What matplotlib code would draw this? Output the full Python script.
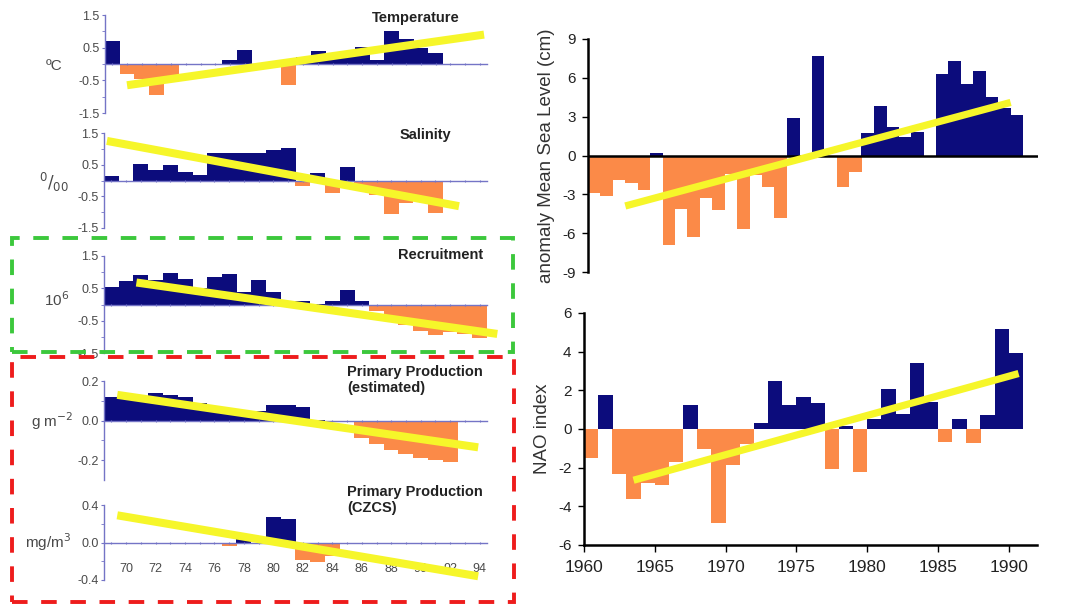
import matplotlib

matplotlib.use("Agg")
import matplotlib.pyplot as plt
from matplotlib.patches import Rectangle

plt.rcParams["font.family"] = ["Liberation Sans", "DejaVu Sans"]
plt.rcParams["axes.unicode_minus"] = False

W, H = 1071, 606
NAVY = "#0c0c7c"
ORANGE = "#fb8a48"
YELLOW = "#f6f62a"
AXBLUE = "#7474c6"
GREY = "#4a4a4a"

# ---- left column: yearly anomalies (years as 19xx -> xx) ----
temp_years = list(range(69, 94))
temp_vals = [0.7, -0.3, -0.45, -0.95, -0.4, 0.0, 0.0, 0.0, 0.13, 0.42, -0.1, 0.0,
             -0.65, 0.2, 0.4, 0.25, 0.3, 0.52, 0.12, 1.0, 0.78, 0.5, 0.33, 0.0, 0.0]
temp_trend_x = [70.0, 94.3]
temp_trend_y = [-0.65, 0.9]

sal_years = list(range(69, 92))
sal_vals = [0.13, 0.0, 0.52, 0.34, 0.5, 0.27, 0.17, 0.88, 0.88, 0.88, 0.88, 0.97,
            1.04, -0.16, 0.24, -0.38, 0.42, -0.2, -0.45, -1.05, -0.72, -0.55, -1.02]
sal_trend_x = [68.7, 92.6]
sal_trend_y = [1.25, -0.81]

rec_years = list(range(69, 95))
rec_vals = [0.54, 0.74, 0.91, 0.75, 0.96, 0.8, 0.5, 0.85, 0.93, 0.4, 0.76, 0.39,
            0.1, 0.1, 0.02, 0.1, 0.44, 0.1, -0.2, -0.4, -0.64, -0.81, -0.93, -0.85,
            -0.9, -1.03]
rec_trend_x = [70.7, 95.2]
rec_trend_y = [0.68, -0.91]

ppe_years = list(range(69, 93))
ppe_vals = [0.12, 0.11, 0.12, 0.14, 0.13, 0.12, 0.09, 0.07, 0.05, 0.04, 0.05, 0.08,
            0.08, 0.07, 0.005, 0.0, -0.005, -0.09, -0.12, -0.15, -0.17, -0.19, -0.2,
            -0.21]
ppe_trend_x = [69.4, 93.9]
ppe_trend_y = [0.13, -0.135]

czcs_years = list(range(77, 85))
czcs_vals = [-0.04, 0.08, 0.0, 0.27, 0.25, -0.19, -0.21, -0.14]
czcs_trend_x = [69.4, 93.9]
czcs_trend_y = [0.29, -0.36]

# ---- right column ----
sea_years = list(range(1956, 1991))
sea_vals = [-2.9, -3.1, -1.9, -2.1, -2.7, 0.2, -6.9, -4.1, -6.3, -3.3, -4.2, -1.4,
            -5.7, -1.5, -2.4, -4.8, 2.9, 0.0, 7.7, 0.0, -2.4, -1.3, 1.7, 3.8, 2.2,
            1.4, 1.8, 0.0, 6.3, 7.3, 5.5, 6.5, 4.5, 3.7, 3.1]
sea_trend_x = [1959.0, 1990.0]
sea_trend_y = [-3.9, 4.1]

nao_years = list(range(1960, 1991))
nao_vals = [-1.5, 1.75, -2.35, -3.6, -2.8, -2.9, -1.7, 1.25, -1.05, -4.85, -1.85,
            -0.8, 0.3, 2.5, 1.25, 1.65, 1.35, -2.05, 0.15, -2.2, 0.5, 2.05, 0.8,
            3.4, 1.4, -0.65, 0.5, -0.7, 0.7, 5.15, 3.95]
nao_trend_x = [1963.5, 1990.7]
nao_trend_y = [-2.65, 2.87]

fig = plt.figure(figsize=(W / 100, H / 100), dpi=100)


def rect(x0, y0, x1, y1):
    return [x0 / W, 1 - y1 / H, (x1 - x0) / W, (y1 - y0) / H]


def ftext(x, y, s, **kw):
    fig.text(x / W, 1 - y / H, s, **kw)


def sign_colors(vals):
    return [NAVY if v >= 0 else ORANGE for v in vals]


def left_panel(box, years, vals, tx, ty, ylim, major, labels, minor, xlabels=False):
    ax = fig.add_axes(rect(*box))
    ax.bar(years, vals, width=1.02, color=sign_colors(vals), linewidth=0, zorder=1)
    ax.plot(tx, ty, color=YELLOW, lw=5.8, solid_capstyle="butt", clip_on=False, zorder=4)
    ax.set_xlim(68.5, 94.5)
    ax.set_ylim(*ylim)
    for s in ("top", "right"):
        ax.spines[s].set_visible(False)
    ax.spines["bottom"].set_position(("data", 0))
    for s in ("left", "bottom"):
        ax.spines[s].set_color(AXBLUE)
        ax.spines[s].set_linewidth(1.0)
    ax.set_yticks(major, labels)
    ax.set_yticks(minor, minor=True)
    ax.tick_params(axis="y", which="both", color=AXBLUE, length=2.5, labelsize=9,
                   labelcolor=GREY, pad=1.5)
    yrs = list(range(69, 95))
    if xlabels:
        ax.set_xticks(yrs, [str(y) if y % 2 == 0 else "" for y in yrs])
        ax.tick_params(axis="x", labelsize=9, labelcolor=GREY, pad=14)
    else:
        ax.set_xticks(yrs)
        ax.tick_params(axis="x", labelbottom=False)
    ax.tick_params(axis="x", color=AXBLUE, length=2, direction="inout")
    ax.patch.set_alpha(0)
    return ax


left_panel((105, 15, 487, 113), temp_years, temp_vals, temp_trend_x, temp_trend_y,
           (-1.5, 1.5), [1.5, 0.5, -0.5, -1.5], ["1.5", "0.5", "-0.5", "-1.5"], [1.0, 0, -1.0])
left_panel((104, 133, 487, 228), sal_years, sal_vals, sal_trend_x, sal_trend_y,
           (-1.5, 1.5), [1.5, 0.5, -0.5, -1.5], ["1.5", "0.5", "-0.5", "-1.5"], [1.0, 0, -1.0])
left_panel((104, 256, 487, 353), rec_years, rec_vals, rec_trend_x, rec_trend_y,
           (-1.5, 1.5), [1.5, 0.5, -0.5, -1.5], ["1.5", "0.5", "-0.5", "-1.5"], [1.0, 0, -1.0])
left_panel((104, 381, 487, 480), ppe_years, ppe_vals, ppe_trend_x, ppe_trend_y,
           (-0.3, 0.2), [0.2, 0.0, -0.2], ["0.2", "0.0", "-0.2"], [0.1, -0.1])
left_panel((104, 505, 487, 580), czcs_years, czcs_vals, czcs_trend_x, czcs_trend_y,
           (-0.4, 0.4), [0.4, 0.0, -0.4], ["0.4", "0.0", "-0.4"], [0.2, -0.2], xlabels=True)

# units and panel titles
ftext(54, 66, "ºC", fontsize=11, color=GREY, ha="center", va="center")
ftext(54, 182, r"$^{0}/_{00}$", fontsize=12, color=GREY, ha="center", va="center")
ftext(57, 300, r"10$^{6}$", fontsize=11, color=GREY, ha="center", va="center")
ftext(52, 421, r"g m$^{-2}$", fontsize=11, color=GREY, ha="center", va="center")
ftext(48, 542, r"mg/m$^{3}$", fontsize=11, color=GREY, ha="center", va="center")

ftext(416, 18, "Temperature", fontsize=10.5, fontweight="bold", color="#222222",
      ha="center", va="center")
ftext(425, 135, "Salinity", fontsize=10.5, fontweight="bold", color="#222222",
      ha="center", va="center")
ftext(441, 255, "Recruitment", fontsize=10.5, fontweight="bold", color="#222222",
      ha="center", va="center")
ftext(347, 380, "Primary Production\n(estimated)", fontsize=10.5, fontweight="bold",
      color="#222222", ha="left", va="center", linespacing=1.1)
ftext(347, 500, "Primary Production\n(CZCS)", fontsize=10.5, fontweight="bold",
      color="#222222", ha="left", va="center", linespacing=1.1)

# ---- sea level ----
ax1 = fig.add_axes(rect(588, 39, 1038, 272))
ax1.bar(sea_years, sea_vals, width=1.02, align="edge", color=sign_colors(sea_vals),
        linewidth=0, zorder=1)
ax1.axhline(0, color="black", lw=1.8, zorder=2)
ax1.plot(sea_trend_x, sea_trend_y, color=YELLOW, lw=5.2, solid_capstyle="butt", zorder=4)
ax1.set_xlim(1956, 1992.2)
ax1.set_ylim(-9, 9)
ax1.set_yticks([9, 6, 3, 0, -3, -6, -9])
for s in ("top", "right", "bottom"):
    ax1.spines[s].set_visible(False)
ax1.spines["left"].set_linewidth(1.8)
ax1.tick_params(axis="y", length=4, width=1, labelsize=11, labelcolor="#222222", pad=5)
ax1.set_xticks([])
ax1.set_ylabel("anomaly Mean Sea Level (cm)", fontsize=13.5, color="#333333", labelpad=5)

# ---- NAO ----
ax2 = fig.add_axes(rect(584, 313, 1037, 545))
ax2.bar(nao_years, nao_vals, width=1.02, align="edge", color=sign_colors(nao_vals),
        linewidth=0, zorder=1)
ax2.plot(nao_trend_x, nao_trend_y, color=YELLOW, lw=5.2, solid_capstyle="butt", zorder=4)
ax2.set_xlim(1960, 1992)
ax2.set_ylim(-6, 6)
ax2.set_yticks([6, 4, 2, 0, -2, -4, -6])
ax2.set_xticks([1960, 1965, 1970, 1975, 1980, 1985, 1990])
for s in ("top", "right"):
    ax2.spines[s].set_visible(False)
ax2.spines["left"].set_linewidth(1.8)
ax2.spines["bottom"].set_linewidth(1.8)
ax2.tick_params(axis="y", length=4, width=1, labelsize=11, labelcolor="#222222", pad=5)
ax2.tick_params(axis="x", length=5, width=1, labelsize=12.5, labelcolor="#222222", pad=6)
ax2.set_ylabel("NAO index", fontsize=13.5, color="#333333", labelpad=5)

# ---- dashed highlight boxes ----
fig.add_artist(Rectangle((12 / W, 1 - 352 / H), 501 / W, 114 / H, transform=fig.transFigure,
                         fill=False, edgecolor="#3cc83c", lw=2.8, linestyle=(0, (4, 3.5)),
                         zorder=10))
fig.add_artist(Rectangle((12 / W, 1 - 602 / H), 502 / W, 245 / H, transform=fig.transFigure,
                         fill=False, edgecolor="#ee1c1c", lw=2.8, linestyle=(0, (4, 3.5)),
                         zorder=10))

fig.savefig("out.png", dpi=100)
